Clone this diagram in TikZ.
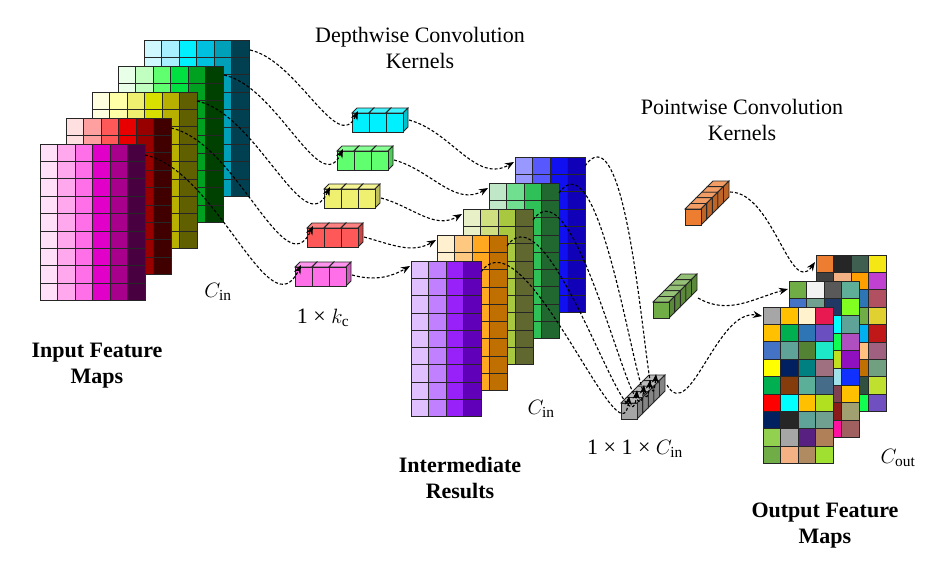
\documentclass[tikz,border=0pt]{standalone}
\usepackage{fontspec}
\setmainfont{Liberation Serif}
\usetikzlibrary{arrows.meta}
\tikzset{cell/.style={draw=black!85,line width=0.8pt},
 arr/.style={densely dashed,line width=1.1pt,-{Stealth[length=9pt,width=7pt]}},
 lbl/.style={font=\fontsize{22}{26}\selectfont,align=center},
 blbl/.style={font=\fontsize{22}{26}\selectfont\bfseries,align=center}}
\newcommand\clayer[6]{%
 \foreach \cc [count=\ii from 0] in {#3}{%
  \edef\tmp{\noexpand\definecolor{tmpc}{HTML}{\cc}}\tmp
  \foreach \jj in {1,...,#4}{%
   \draw[cell,fill=tmpc] ({#1+\ii*#5},{#2+(\jj-1)*#6}) rectangle ++(#5,#6);}}}
\newcommand\olayer[3]{%
 \foreach \a/\b/\c/\d [count=\jj from 0] in {#3}{%
  \foreach \cc [count=\ii from 0] in {\a,\b,\c,\d}{%
   \edef\tmp{\noexpand\definecolor{tmpc}{HTML}{\cc}}\tmp
   \draw[cell,fill=tmpc] ({#1+\ii*17.5},{#2+\jj*17.4}) rectangle ++(17.5,17.4);}}}
\newcommand\mycube[7]{%
 \edef\tmp{\noexpand\definecolor{tmpc}{HTML}{#7}}\tmp
 \draw[cell,fill=tmpc!75!white] (#1,#2) -- ++(#5,#6) -- ++(#3,0) -- ++(-#5,-#6) -- cycle;
 \draw[cell,fill=tmpc!80!black] ({#1+#3},#2) -- ++(#5,#6) -- ++(0,#4) -- ++(-#5,-#6) -- cycle;
 \draw[cell,fill=tmpc] (#1,#2) rectangle ++(#3,#4);}
\newcommand\dwkernel[3]{\foreach \k in {0,1,2}{\mycube{#1+\k*17}{#2}{17}{19}{5}{-5}{#3}}}
\newcommand\pwbar[3]{\foreach \k in {4,3,2,1,0}{\mycube{#1+\k*5.6}{#2-\k*5.6}{16}{16}{5.6}{-5.6}{#3}}}
\begin{document}
\begin{tikzpicture}[x=1pt,y=-1pt]
\useasboundingbox (0,0) rectangle (935,573);
\clayer{144}{40}{D0F8FF,A8F0FF,00F0FF,00C0E0,00A0B8,004050}{9}{17.5}{17.4}
\clayer{118}{66}{E8FFE8,C0FFC0,60FF70,00E040,00A020,004000}{9}{17.5}{17.4}
\clayer{92}{92}{FFFFE0,FFFFA8,F0F070,D8E000,B8B000,606000}{9}{17.5}{17.4}
\clayer{66}{118}{FFE0E0,FFA0A0,FF5858,E80000,980000,400000}{9}{17.5}{17.4}
\clayer{40}{144}{FFE0F8,FFA8EE,FF70E8,E000C8,A8008C,480040}{9}{17.5}{17.4}
\clayer{515}{157}{9898FF,5858FF,1010F0,1000B8}{9}{17.5}{17.3}
\clayer{489}{183}{C0E8C8,70E090,30C058,206830}{9}{17.5}{17.3}
\clayer{463}{209}{E8F0C8,D0E080,A8C840,606830}{9}{17.5}{17.3}
\clayer{437}{235}{FFF0D0,FFC880,FFA820,C07000}{9}{17.5}{17.3}
\clayer{411}{261}{E0C0FF,C080FF,9820F8,6000B8}{9}{17.5}{17.3}
\olayer{816}{255}{ED7D31/262626/3F5F50/F5E616,404040/F4B183/FFA000/C040D0,
 404040/404040/2E75B6/B05060,404040/404040/70AD47/E0D030,404040/404040/00B0F0/C01818,
 404040/404040/FFC080/A06080,404040/404040/C07000/70A080,404040/404040/305040/C0E030,
 404040/404040/10FF50/7050C0}
\olayer{789}{281}{70AD47/F2F2F2/595959/5FAF98,4472C4/70A090/1F3864/80FF20,
 404040/404040/00FFFF/5FA398,404040/404040/10FF50/B050C0,404040/404040/C0E020/9010C0,
 404040/404040/A0E0E8/1030FF,404040/404040/7F4050/FFC000,404040/404040/8B1A1A/A0A070,
 404040/404040/FF10A0/A06060}
\olayer{763}{307}{A6A6A6/FFC000/FFF2CC/E81850,FFC000/00B050/2E75B6/6A4FC0,
 4472C4/5FA398/548235/1DE9C8,FFFF00/002060/008080/9E7080,00B050/843C0C/5BAE98/456C88,
 FF0000/00FFFF/FFC000/B0E020,002060/262626/5FA398/70A090,92D050/A6A6A6/582080/B08058,
 70AD47/F4B183/B08A60/A0E030}
\dwkernel{352}{113}{00F0FF}
\dwkernel{337}{151}{60FF70}
\dwkernel{324}{189}{F0F070}
\dwkernel{307}{228}{FF5858}
\dwkernel{295}{267}{FF70E8}
\pwbar{685}{209}{ED7D31}
\pwbar{653}{302}{70AD47}
\pwbar{621}{403}{A6A6A6}
\coordinate (i1) at (145,155); \coordinate (i2) at (171,128); \coordinate (i3) at (197,101);
\coordinate (i4) at (224,75); \coordinate (i5) at (250,50);
\coordinate (k1t) at (301,265); \coordinate (k2t) at (313,226); \coordinate (k3t) at (330,187);
\coordinate (k4t) at (343,149); \coordinate (k5t) at (358,111);
\coordinate (k1r) at (352,275); \coordinate (k2r) at (364,237); \coordinate (k3r) at (381,198);
\coordinate (k4r) at (394,160); \coordinate (k5r) at (409,120);
\coordinate (m1) at (410,266); \coordinate (m2) at (436,240); \coordinate (m3) at (462,214);
\coordinate (m4) at (488,188); \coordinate (m5) at (514,162);
\coordinate (r1) at (481,272); \coordinate (r2) at (507,246); \coordinate (r3) at (533,220);
\coordinate (r4) at (559,193); \coordinate (r5) at (585,166);
\coordinate (g1) at (629,396); \coordinate (g2) at (637,390); \coordinate (g3) at (644,385);
\coordinate (g4) at (650,380); \coordinate (g5) at (656,374);
\coordinate (gb) at (667,385); \coordinate (of) at (762,316);
\coordinate (ob) at (730,192); \coordinate (obk) at (815,262);
\coordinate (gr) at (698,298); \coordinate (om) at (788,289);
\foreach \n in {1,...,5}{
 \draw[arr] (i\n) to[out=-12,in=-115] (k\n t);
 \draw[arr] (k\n r) to[out=-15,in=-150] (m\n);
 \draw[arr] (r\n) to[out=55,in=-95] (g\n);}
\draw[arr] (gb) to[out=-60,in=170] (of);
\draw[arr] (ob) to[out=0,in=-125] (obk);
\draw[arr] (gr) to[out=-30,in=-165] (om);
\node[lbl] (t1) at (420,48) {Depthwise Convolution\\Kernels};
\node[lbl] (t2) at (742,120) {Pointwise Convolution\\Kernels};
\node[lbl] (t3) at (218,292) {$C_{\rm in}$};
\node[lbl] (t4) at (323,318) {1 × $k_{\rm c}$};
\node[blbl] (t5) at (97,366) {Input Feature\\Maps};
\node[lbl] (t6) at (541,409) {$C_{\rm in}$};
\node[blbl] (t7) at (460,478) {Intermediate\\Results};
\node[lbl] (t8) at (635,449) {1 × 1 × $C_{\rm in}$};
\node[lbl] (t9) at (898,458) {$C_{\rm out}$};
\node[blbl] (t10) at (825,526) {Output Feature\\Maps};
\end{tikzpicture}
\end{document}
